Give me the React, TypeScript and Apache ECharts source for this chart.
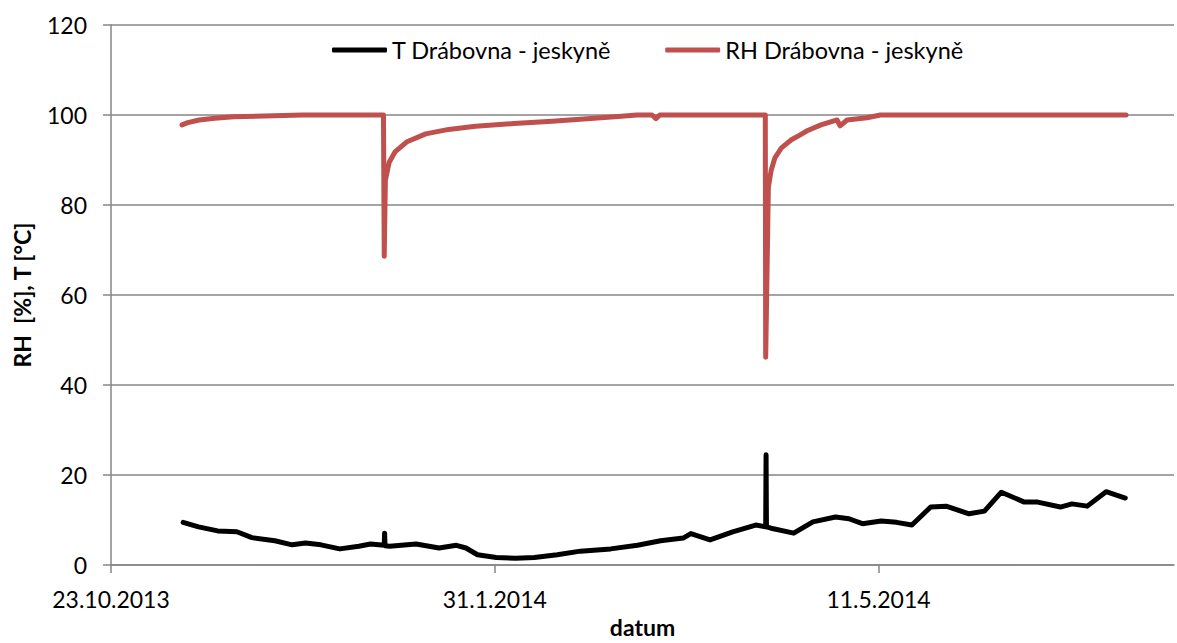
import React, { useEffect, useRef } from "react";
import * as echarts from "echarts";

// x values: days elapsed since 23.10.2013
const START_UTC = Date.UTC(2013, 9, 23);
const X_MAX_DAYS = 277;
const X_TICK_DAYS = 100;

const tDays = [18.8, 22.8, 27.8, 32.8, 36.7, 42.7, 47.2, 50.7, 54.7, 59.6, 64.6, 67.6, 71.2, 71.3, 71.4, 72.6, 79.5, 85.5, 90, 92.5, 95.5, 100.4, 105.4, 110.3, 116.3, 122.3, 130.2, 137.2, 143.2, 149.1, 151.1, 156.1, 162, 168, 170.6, 170.7, 170.8, 172, 177.9, 182.9, 188.8, 192.3, 195.8, 200.7, 204.7, 208.7, 213.6, 217.6, 223.6, 227.6, 232, 238, 241.5, 247.4, 250.4, 254.4, 259.3, 264.3];
const tValues = [9.5, 8.5, 7.6, 7.4, 6.1, 5.4, 4.5, 4.9, 4.5, 3.6, 4.2, 4.7, 4.4, 7.1, 4.3, 4.2, 4.7, 3.8, 4.4, 3.8, 2.3, 1.7, 1.5, 1.7, 2.3, 3.1, 3.6, 4.4, 5.4, 6.0, 7.0, 5.6, 7.4, 8.9, 8.5, 24.5, 8.5, 8.2, 7.1, 9.6, 10.7, 10.3, 9.2, 9.8, 9.5, 8.9, 12.9, 13.1, 11.4, 12.0, 16.2, 14.0, 14.0, 12.9, 13.6, 13.1, 16.3, 14.9];

const rhDays = [18.5, 20, 23, 27, 32, 40, 50, 71.0, 71.2, 71.5, 72.5, 74, 77, 82, 88, 95, 105, 115, 125, 133, 137, 141, 142, 143, 170.5, 170.6, 171.3, 172, 173, 174.7, 177.3, 179.6, 181.4, 185, 189.2, 190, 191.8, 197, 200.5, 264.5];
const rhValues = [97.8, 98.3, 98.9, 99.3, 99.6, 99.8, 100, 100, 68.6, 85.5, 89.5, 91.8, 94, 95.8, 96.8, 97.5, 98.1, 98.6, 99.2, 99.7, 100, 100, 99.2, 100, 100, 46.2, 84, 87.6, 90.5, 92.7, 94.5, 95.6, 96.5, 97.8, 98.9, 97.6, 98.9, 99.4, 100, 100];

const seriesNames = ["T Drábovna - jeskyně", "RH Drábovna - jeskyně"];
const yAxisTitle = "RH  [%], T [°C]";
const xAxisTitle = "datum";

function fmtDate(days: number): string {
  const d = new Date(START_UTC + days * 86400000);
  return `${d.getUTCDate()}.${d.getUTCMonth() + 1}.${d.getUTCFullYear()}`;
}

export default function App() {
  const ref = useRef<HTMLDivElement>(null);
  useEffect(() => {
    if (!ref.current) return;
    const chart = echarts.init(ref.current, undefined, { renderer: "svg" });
    const font = "Lato";
    const gray = "#868686";
    chart.setOption({
      animation: false,
      backgroundColor: "#ffffff",
      textStyle: { fontFamily: font },
      grid: { left: 111, right: 3, top: 25, bottom: 70, containLabel: false },
      legend: {
        left: 327,
        top: 33,
        itemWidth: 55,
        itemHeight: 5,
        itemGap: 54,
        icon: "roundRect",
        textStyle: { fontFamily: font, fontSize: 23.5, color: "#000" },
        data: seriesNames,
      },
      xAxis: {
        type: "value",
        min: 0,
        max: X_MAX_DAYS,
        interval: X_TICK_DAYS,
        name: xAxisTitle,
        nameLocation: "middle",
        nameGap: 49,
        nameTextStyle: { fontFamily: font, fontSize: 23, fontWeight: "bold", color: "#000" },
        axisLine: { show: true, lineStyle: { color: gray, width: 1.5 } },
        axisTick: { show: true, length: 8, inside: false, lineStyle: { color: gray, width: 1.5 } },
        splitLine: { show: false },
        axisLabel: {
          formatter: (v: number) => fmtDate(v),
          fontFamily: font,
          fontSize: 23,
          color: "#000",
          margin: 22,
          showMaxLabel: false,
        },
      },
      yAxis: {
        type: "value",
        min: 0,
        max: 120,
        interval: 20,
        name: yAxisTitle,
        nameLocation: "middle",
        nameGap: 78,
        nameTextStyle: { fontFamily: font, fontSize: 23, fontWeight: "bold", color: "#000" },
        axisLine: { show: true, lineStyle: { color: gray, width: 1.5 } },
        axisTick: { show: true, length: 8, inside: false, lineStyle: { color: gray, width: 1.5 } },
        splitLine: { show: true, lineStyle: { color: gray, width: 1.5 } },
        axisLabel: { fontFamily: font, fontSize: 23, color: "#000", margin: 24 },
      },
      series: [
        {
          name: seriesNames[0],
          type: "line",
          data: tDays.map((d, i) => [d, tValues[i]]),
          showSymbol: false,
          symbol: "none",
          color: "#000000",
          lineStyle: { color: "#000000", width: 5, cap: "round", join: "round" },
          z: 3,
        },
        {
          name: seriesNames[1],
          type: "line",
          data: rhDays.map((d, i) => [d, rhValues[i]]),
          showSymbol: false,
          symbol: "none",
          color: "#C0504D",
          lineStyle: { color: "#C0504D", width: 5, cap: "round", join: "round" },
          z: 2,
        },
      ],
    });
    return () => chart.dispose();
  }, []);
  return (
    <div
      ref={ref}
      style={{ position: "absolute", left: 0, top: 0, width: 1177, height: 643 }}
    />
  );
}
